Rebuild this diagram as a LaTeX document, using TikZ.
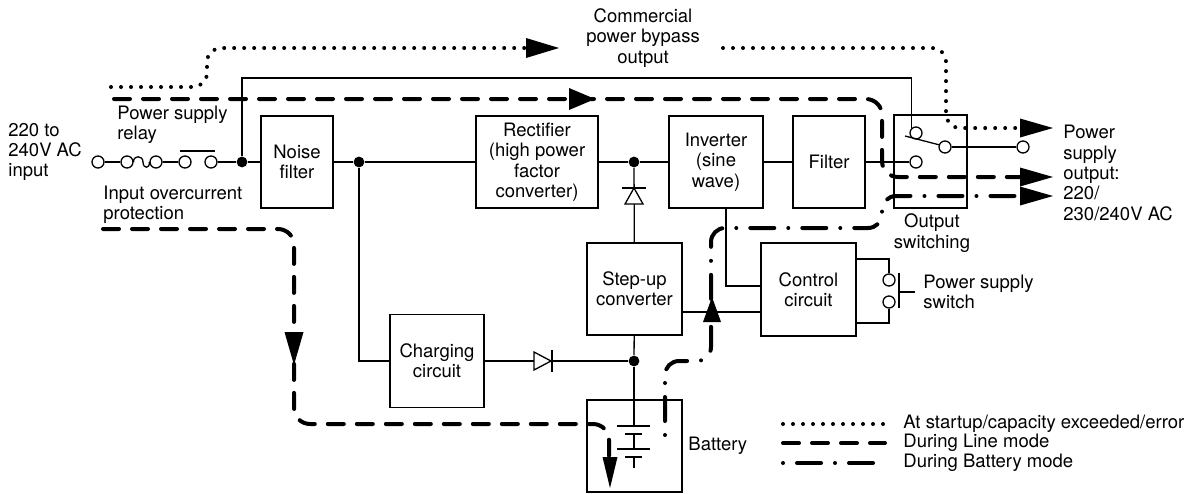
\documentclass[tikz,border=0pt]{standalone}
\usepackage{fontspec}
\setmainfont{TeX Gyre Heros}
\begin{document}
\begin{tikzpicture}[x=0.5pt,y=-0.5pt,
  every node/.style={font=\fontsize{9.25}{10.2}\selectfont, inner sep=0pt},
  wire/.style={line width=0.65pt},
  blk/.style={draw, line width=0.65pt, align=center, inner sep=0pt},
  jdot/.style={circle, fill, inner sep=0pt, minimum size=5.4pt},
  term/.style={circle, draw, fill=white, inner sep=0pt, minimum size=6pt, line width=0.65pt},
  startup/.style={line width=2pt, line cap=round, dash pattern=on 0pt off 5pt},
  linemode/.style={line width=2pt, line cap=round, dash pattern=on 8pt off 6.5pt},
  battmode/.style={line width=2pt, line cap=round, dash pattern=on 0pt off 7pt on 12pt off 7pt},
  lbl/.style={align=left, anchor=west},
]
\useasboundingbox (0,0) rectangle (1192,493);

% helper coordinates
\coordinate (xinv) at (726,0);
\coordinate (y286) at (0,286);
\coordinate (y312) at (0,312);
\coordinate (y259) at (0,259);
\coordinate (y323) at (0,323);
\coordinate (ytop) at (0,78);
\coordinate (blade) at (905,136);

% blocks
\node[blk, minimum width=36pt, minimum height=46pt] (noise) at (297,162) {Noise\\filter};
\node[blk, minimum width=61pt, minimum height=46pt] (rect) at (537,162) {Rectifier\\(high power\\factor\\converter)};
\node[blk, minimum width=47pt, minimum height=46pt] (inv) at (716,162) {Inverter\\(sine\\wave)};
\node[blk, minimum width=36pt, minimum height=46pt] (filt) at (829,162) {Filter};
\node[blk, minimum width=36.5pt, minimum height=46.5pt] (osw) at (930.5,161.5) {};
\node[blk, minimum width=47.5pt, minimum height=46pt] (step) at (634.5,289) {Step-up\\converter};
\node[blk, minimum width=47.5pt, minimum height=46.5pt] (ctrl) at (808.5,289.5) {Control\\circuit};
\node[blk, minimum width=47pt, minimum height=46.5pt] (chg) at (437,361) {Charging\\circuit};
\node[blk, minimum width=47.5pt, minimum height=46pt] (batt) at (634.5,446) {};

% terminals and junctions
\node[term] (in) at (98,162) {};
\node[term] (f1) at (127,162) {};
\node[term] (f2) at (156,162) {};
\node[term] (r1) at (185,162) {};
\node[term] (r2) at (211,162) {};
\node[jdot] (d1) at (242,162) {};
\node[jdot] (d2) at (359,162) {};
\node[jdot] (d3) at (634,162) {};
\node[jdot] (d4) at (634,361) {};
\node[term] (s1) at (916,133) {};
\node[term] (s2) at (945,147) {};
\node[term] (s3) at (916,162) {};
\node[term] (s4) at (1023,147) {};
\node[term] (p1) at (889,280) {};
\node[term] (p2) at (889,302) {};

% input chain
\draw[wire] (in) -- (f1);
\draw[wire] (f1.east) .. controls (133,155) and (143,155) .. (143,162)
                      .. controls (143,169) and (150,169) .. (f2.west);
\draw[wire] (f2) -- (r1);
\draw[line width=1.1pt] (180,151) -- (215,151);
\draw[wire] (r2) -- (d1) -- (noise);
\draw[wire] (noise) -- (d2) -- (rect);
\draw[wire] (rect) -- (d3) -- (inv);
\draw[wire] (inv) -- (filt);
\draw[wire] (filt) -- (s3);

% bypass line and switch
\draw[wire] (d1) -- (d1 |- ytop) -| (s1.135);
\draw[wire] (blade) -- (s2.160);
\draw[wire] (s2) -- (s4);

% diode to step-up
\draw[wire] (d3) -- (step);
\filldraw[wire, fill=white] (634,188) -- (625,204) -- (643,204) -- cycle;
\draw[wire] (622,188) -- (646,188);

% control circuit wiring
\draw[wire] (inv.south -| xinv) |- (ctrl.west |- y286);
\draw[wire] (step.east |- y312) -- (ctrl.west |- y312);
\draw[wire] (ctrl.east |- y259) -| (p1);
\draw[wire] (p2) |- (ctrl.east |- y323);
\draw[line width=1.1pt] (899,273) -- (899,308);
\draw[wire] (899,292) -- (915,292);

% charging path
\draw[wire] (d2) |- (chg);
\draw[wire] (chg) -- (d4);
\filldraw[wire, fill=white] (551,361) -- (534,352) -- (534,370) -- cycle;
\draw[wire] (552,350) -- (552,372);
\draw[wire] (step) -- (d4);
\draw[wire] (d4) -- (634,426);

% battery symbol
\draw[wire] (617,426) -- (650,426);
\draw[wire] (625,434) -- (642,434);
\draw[wire] (634,434) -- (634,449);
\draw[wire] (617,449) -- (650,449);
\draw[wire] (625,457) -- (642,457);
\draw[wire] (634,457) -- (634,468);

% startup / bypass (dotted)
\draw[startup, rounded corners=7pt] (111,87) -- (207,87) -- (207,48) -- (535,48);
\fill (559,48) -- ++(-33,-10) -- ++(0,20) -- cycle;
\draw[startup, rounded corners=7pt] (723,48) -- (946,48) -- (946,128) -- (1025,128);
\fill (1053,128) -- ++(-33,-9.5) -- ++(0,19) -- cycle;

% line mode (dashed)
\draw[linemode, rounded corners=8pt] (114,99) -- (882,99) -- (882,177) -- (1025,177);
\fill (595,99) -- ++(-26,-11) -- ++(0,22) -- cycle;
\fill (1053,177) -- ++(-33,-9.5) -- ++(0,19) -- cycle;
\draw[linemode, rounded corners=8pt] (103,229) -- (294,229) -- (294,424) -- (609,424) -- (609,465);
\fill (294,365) -- ++(-9.5,-33) -- ++(19,0) -- cycle;
\fill (610,488) -- ++(-7.5,-31) -- ++(15,0) -- cycle;

% battery mode (dash-dot)
\draw[battmode, rounded corners=7pt] (665,435) -- (665,361) -- (711,361) -- (711,228) -- (882,228) -- (882,196) -- (1025,196);
\fill (712,297) -- ++(-9,25) -- ++(18,0) -- cycle;
\fill (1053,196) -- ++(-33,-9.5) -- ++(0,19) -- cycle;

% labels
\node[lbl] (tin) at (8,152) {220 to\\240V AC\\input};
\node[lbl] (trelay) at (117,125) {Power supply\\relay};
\node[lbl] (tocp) at (103,204.5) {Input overcurrent\\protection};
\node[align=center] (tbyp) at (643,38) {Commercial\\power bypass\\output};
\node[align=center] (tosw) at (932,233) {Output\\switching};
\node[lbl] (tout) at (1063,173) {Power\\supply\\output:\\220/\\230/240V AC};
\node[lbl] (tpsw) at (923,292) {Power supply\\switch};
\node[lbl] (tbat) at (688,446) {Battery};

% legend
\draw[startup] (783,424) -- (885,424);
\draw[linemode] (783,443) -- (885,443);
\draw[battmode] (783,463) -- (885,463);
\node[lbl] (l1) at (903,424) {At startup/capacity exceeded/error};
\node[lbl] (l2) at (903,443) {During Line mode};
\node[lbl] (l3) at (903,463) {During Battery mode};
\end{tikzpicture}
\end{document}
